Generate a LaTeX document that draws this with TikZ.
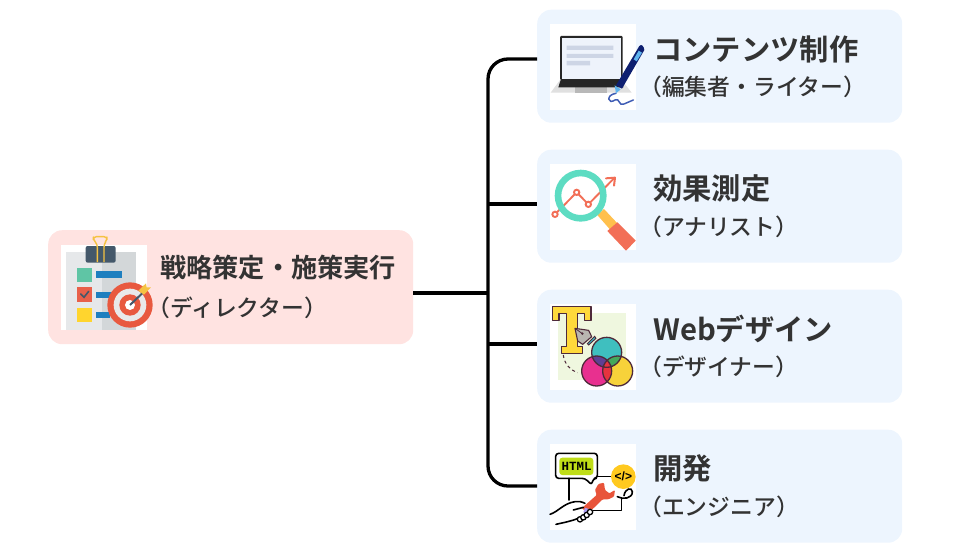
\documentclass[tikz,border=0pt]{standalone}
\usepackage{fontspec}
\setmainfont{Noto Sans CJK JP}
\newfontfamily\jpb{Noto Sans CJK JP Bold}
\newfontfamily\jpm{Noto Sans CJK JP Medium}
\newfontfamily\lat{Liberation Mono}[BoldFont={Liberation Mono Bold}]
\newfontfamily\sns{Liberation Sans}[BoldFont={Liberation Sans Bold}]
\definecolor{txt}{HTML}{333333}
\definecolor{pinkbox}{HTML}{FFE3E1}
\definecolor{bluebox}{HTML}{EDF5FE}
\definecolor{dk}{HTML}{4E2A3A}
\definecolor{navy}{HTML}{0E1F70}
\definecolor{skyb}{HTML}{5FB4EE}
\definecolor{coral}{HTML}{F26F57}
\definecolor{teal}{HTML}{5DDCC2}
\definecolor{gold}{HTML}{FFC04D}
\definecolor{barb}{HTML}{1E7FBF}
\newcommand{\dc}[1]{\definecolor{x#1}{HTML}{#1}}
\dc{EEF3FB}\dc{CDD5E5}\dc{3F5DB5}\dc{EFF7DF}\dc{FFD93B}\dc{B8B6B0}\dc{37B7C4}\dc{F7D23A}\dc{E8308F}\dc{3FBFBF}\dc{5F3F94}\dc{45A85A}\dc{E5333F}\dc{3C4A5A}\dc{BFDD17}\dc{FFC91F}\dc{E8543A}\dc{A99BEF}\dc{E6E8EA}\dc{D3D7D9}\dc{44586A}\dc{F5C242}\dc{5FC5A5}\dc{E8604A}\dc{FFD52E}\dc{E8593F}\dc{E9E9E9}
\tikzset{
  x=1pt,y=-1pt,
  boxb/.style={fill=bluebox,rounded corners=14pt,minimum width=365pt,minimum height=113pt,inner sep=0pt,anchor=north west},
  boxp/.style={fill=pinkbox,rounded corners=14pt,minimum width=365pt,minimum height=114pt,inner sep=0pt,anchor=north west},
  tl/.style={anchor=west,inner sep=0pt,text=txt,font=\jpb\fontsize{29.3}{32}\selectfont},
  sl/.style={anchor=west,inner sep=0pt,text=txt,font=\jpm\fontsize{22.8}{26}\selectfont},
  tlm/.style={anchor=west,inner sep=0pt,text=txt,font=\jpb\fontsize{26.2}{30}\selectfont},
  wire/.style={draw=black,line width=3.3pt,rounded corners=20pt},
  icon/.style={x=0.3333pt,y=-0.3333pt},
  ln/.style={draw=black,line width=1.6pt,line cap=round,line join=round},
}
\begin{document}
\begin{tikzpicture}
\useasboundingbox (0,0) rectangle (965,552);
% boxes
\node[boxp] (main) at (48,230) {};
\node[boxb] (b1) at (537,9.5) {};
\node[boxb] (b2) at (537,149.5) {};
\node[boxb] (b3) at (537,289.5) {};
\node[boxb] (b4) at (537,429.5) {};
% connector anchors
\coordinate (j) at (488,293);
\coordinate (e1) at (537,59);
\coordinate (e2) at (537,204);
\coordinate (e3) at (537,344);
\coordinate (e4) at (537,486);
\draw[wire] (e1) -- (e1-|j) -- (e4-|j) -- (e4);
\draw[wire] (main.east|-j) -- (j);
\draw[wire] (j|-e2) -- (e2);
\draw[wire] (j|-e3) -- (e3);
% texts
\node[tlm] (t0) at (160,267.5) {戦略策定・施策実行};
\node[sl] (s0) at (147,307.5) {（ディレクター）};
\node[tl] (t1) at (653,49.5) {コンテンツ制作};
\node[sl] (s1) at (639,87) {（編集者・ライター）};
\node[tl] (t2) at (653,188.5) {効果測定};
\node[sl] (s2) at (639,227) {（アナリスト）};
\node[tl] (t3) at (653,328.5) {Webデザイン};
\node[sl] (s3) at (639,367) {（デザイナー）};
\node[tl] (t4) at (653,468.5) {開発};
\node[sl] (s4) at (639,507) {（エンジニア）};
% icon 1: laptop and pen
\begin{scope}[shift={(540,10)},icon]
\fill[white] (30,42) rectangle (288,300);
\fill[black!12] (32,248) -- (60,210) -- (245,210) -- (275,248) -- cycle;
\fill[black!28] (105,232) rectangle (200,248);
\fill[black!85] (62,210) -- (245,210) -- (250,232) -- (55,232) -- cycle;
\fill[black!85,rounded corners=1pt] (60,78) rectangle (248,210);
\fill[xEEF3FB] (66,84) rectangle (242,206);
\fill[xCDD5E5] (80,107) rectangle (220,120) (80,132) rectangle (220,144) (80,153) rectangle (150,166);
\draw[x3F5DB5,line width=1.5pt,line cap=round] (228,250) .. controls (195,255) and (205,285) .. (225,270) .. controls (240,262) and (235,290) .. (252,282) .. controls (262,278) and (270,274) .. (280,270);
\fill[skyb] (224,226) -- (242,238) -- (228,250) -- cycle;
\fill[navy] (298,108) .. controls (305,100) and (312,110) .. (313,120) -- (246,236) -- (228,226) -- cycle;
\fill[skyb] (296,122) -- (306,128) -- (290,154) -- (281,148) -- cycle;
\end{scope}
% icon 2: magnifier
\begin{scope}[shift={(540,155)},icon]
\fill[white] (30,27) rectangle (288,285);
\draw[coral,line width=1.9pt,line join=round,line cap=round] (45,178) -- (110,112) -- (145,148) -- (222,70);
\draw[coral,line width=2pt,line cap=round,line join=round] (198,70) -- (225,68) -- (222,92);
\foreach \p/\q in {45/178,110/112,145/148}{\draw[coral,fill=white,line width=1.9pt] (\p,\q) circle (8);}
\fill[gold] (172,180) -- (192,162) -- (235,208) -- (214,228) -- cycle;
\fill[coral] (202,228) -- (232,202) -- (287,257) -- (258,287) -- cycle;
\draw[teal,line width=6.6pt] (122,122) circle (68);
\end{scope}
% icon 3: T and colours
\begin{scope}[shift={(540,295)},icon]
\fill[white] (30,27) rectangle (288,285);
\fill[xEFF7DF] (55,55) rectangle (258,255);
\draw[dk,fill=xFFD93B,line width=1.2pt,line join=round] (37,35) -- (153,35) -- (153,77) -- (133,77) -- (133,56) -- (112,56) -- (112,155) -- (128,155) -- (128,175) -- (65,175) -- (65,155) -- (79,155) -- (79,56) -- (57,56) -- (57,77) -- (37,77) -- cycle;
\draw[dk,fill=xB8B6B0,line width=1.1pt,line join=round] (105,100) -- (146,106) -- (155,125) -- (128,148) -- (113,138) -- cycle;
\fill[dk] (127,116) circle (4);
\draw[dk,line width=.8pt] (105,100) -- (127,116);
\draw[dk,fill=x37B7C4,line width=.9pt] (142,146) -- (164,124) -- (168,130) -- (146,150) -- cycle;
\draw[dk,dashed,line width=1pt] (70,180) .. controls (72,205) and (90,225) .. (113,233);
\fill[xF7D23A] (233,228) circle (45);
\fill[xE8308F] (170,228) circle (45);
\fill[x3FBFBF] (200,172) circle (45);
\begin{scope}\clip (200,172) circle (45);\fill[x5F3F94] (170,228) circle (45);\fill[x45A85A] (233,228) circle (45);\end{scope}
\begin{scope}\clip (170,228) circle (45);\fill[xE5333F] (233,228) circle (45);\end{scope}
\draw[dk,line width=1.3pt] (200,172) circle (45) (170,228) circle (45) (233,228) circle (45);
\end{scope}
% icon 4: HTML wrench
\begin{scope}[shift={(540,435)},icon]
\fill[white] (30,27) rectangle (288,285);
\draw[ln,rounded corners=3pt] (47,55) -- (172,55) -- (172,130) -- (160,130) -- (155,150) -- (135,130) -- (47,130) -- cycle;
\fill[xBFDD17,rounded corners=3pt] (58,68) rectangle (160,120);
\node[inner sep=0pt,text=black,font=\lat\bfseries\fontsize{12.5}{13}\selectfont] (html) at (110,94) {HTML};
\draw[ln] (87,130) -- (87,195);
\draw[ln] (172,125) -- (215,125);
\draw[ln] (160,227) -- (245,227) -- (245,190);
\draw[ln] (232,185) .. controls (250,195) and (278,190) .. (277,170) .. controls (276,155) and (255,160) .. (252,182);
\fill[xFFC91F] (250,125) circle (37);
\node[inner sep=0pt,text=black,font=\sns\bfseries\fontsize{12}{13}\selectfont] (code) at (250,125) {</>};
\fill[xE8543A,line join=round,rounded corners=1pt] (125,220) -- (170,180) -- (165,165) -- (175,147) -- (192,143) -- (195,165) -- (208,175) -- (225,165) -- (222,185) -- (205,193) -- (188,193) -- (155,225) -- (140,230) -- cycle;
\fill[xA99BEF] (135,218) -- (152,224) -- (146,236) -- (130,232) -- cycle;
\draw[ln] (30,238) .. controls (55,230) and (70,205) .. (105,200) .. controls (115,198) and (125,200) .. (135,205);
\draw[ln] (100,225) -- (130,217);
\draw[ln] (48,268) .. controls (75,262) and (95,258) .. (115,250);
\foreach \p/\q in {120/253,130/247,140/240,150/231}{\draw[ln,fill=white,line width=1.3pt] (\p,\q) circle (8);}
\end{scope}
% icon 5: clipboard and target
\begin{scope}[shift={(50,230)},icon]
\fill[white] (33,45) rectangle (290,300);
\fill[xE6E8EA] (48,65) rectangle (155,300);
\fill[xD3D7D9] (155,65) rectangle (258,300);
\fill[x44586A,rounded corners=2pt] (107,48) rectangle (197,98);
\draw[xF5C242,line width=1.4pt,line join=round,rounded corners=3pt] (142,96) -- (142,42) -- (130,30) -- (130,20) -- (171,20) -- (171,30) -- (162,42) -- (162,96);
\fill[x5FC5A5] (82,113) rectangle (125,155);
\fill[barb] (137,122) rectangle (215,145);
\fill[xE8604A] (82,172) rectangle (125,215);
\draw[x44586A,line width=1.6pt,line cap=round] (92,192) -- (102,202) -- (116,184);
\fill[barb] (137,185) rectangle (190,205);
\fill[xFFD52E] (82,235) rectangle (125,277);
\fill[barb] (137,245) rectangle (180,265);
\fill[xE8593F] (240,225) circle (68);
\fill[xE9E9E9] (240,225) circle (49);
\fill[xE8593F] (240,225) circle (32);
\fill[white] (240,225) circle (15);
\draw[x44586A,line width=2pt] (240,225) -- (282,185);
\fill[xF5C242] (265,182) -- (288,160) -- (290,172) -- (303,172) -- (282,194) -- cycle;
\end{scope}
\end{tikzpicture}
\end{document}
